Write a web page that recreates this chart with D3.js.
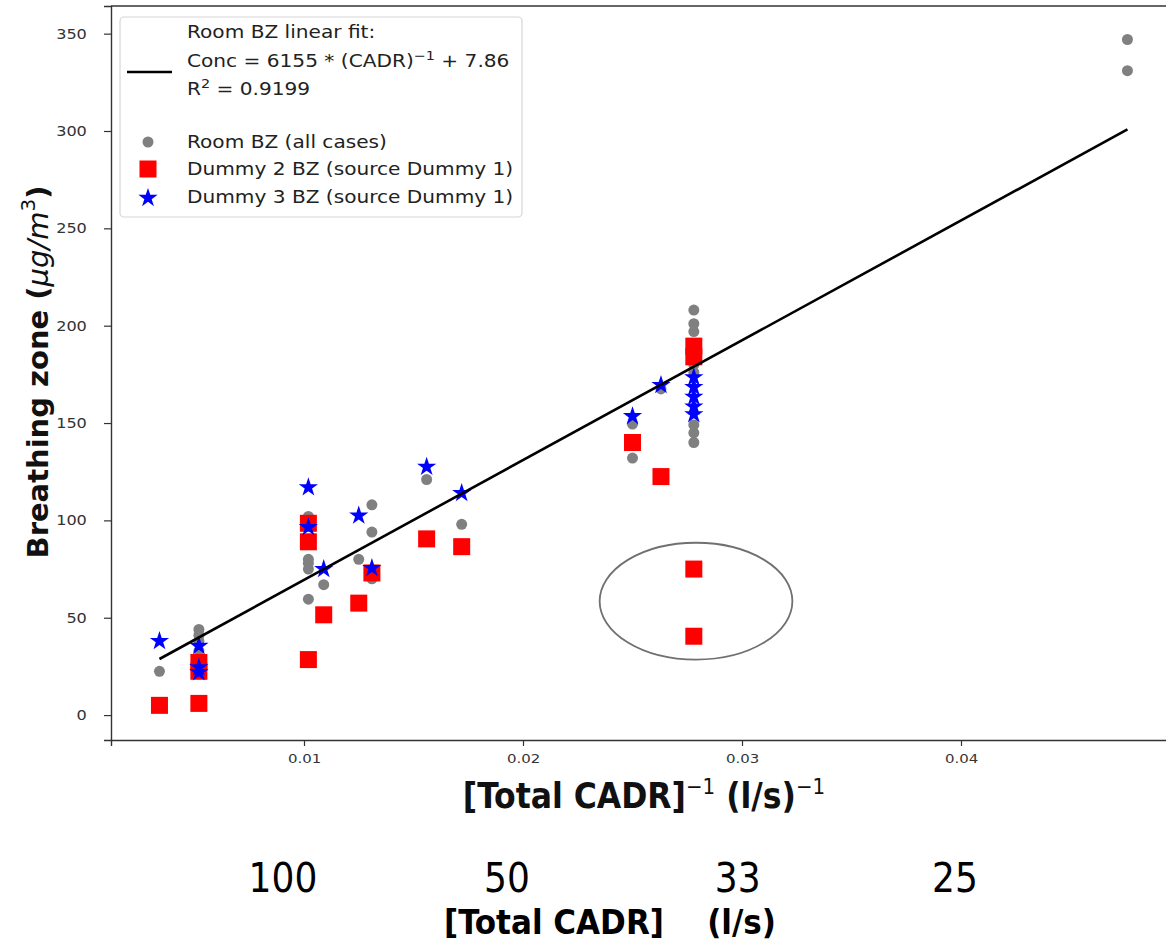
<!DOCTYPE html>
<html>
<head>
<meta charset="utf-8">
<script src="https://cdn.jsdelivr.net/npm/d3@7"></script>
<style>
  body { margin: 0; background: #fff; }
  svg { display: block; }
</style>
</head>
<body>
<svg id="chart" width="1166" height="945"></svg>
<script>
// values: [1/CADR, concentration]
var roomBZ = [
  [0.0034, 22.5],
  [0.0052, 44], [0.0052, 41], [0.0052, 38], [0.0052, 33],
  [0.0102, 102], [0.0102, 80], [0.0102, 78], [0.0102, 75], [0.0102, 59.5],
  [0.0109, 67],
  [0.0125, 80],
  [0.0131, 108], [0.0131, 94], [0.0131, 70],
  [0.0156, 121],
  [0.0172, 98],
  [0.0250, 149.5], [0.0250, 132],
  [0.0263, 167.5],
  [0.0278, 208], [0.0278, 201], [0.0278, 197], [0.0278, 180], [0.0278, 176],
  [0.0278, 149], [0.0278, 145], [0.0278, 140],
  [0.0476, 347], [0.0476, 331]
];
var dummy2BZ = [
  [0.0034, 5],
  [0.0052, 27], [0.0052, 22.5], [0.0052, 6],
  [0.0102, 98.5], [0.0102, 89], [0.0102, 28.5],
  [0.0109, 51.5],
  [0.0125, 57.5],
  [0.0131, 73],
  [0.0156, 90.5],
  [0.0172, 86.5],
  [0.0250, 140],
  [0.0263, 122.5],
  [0.0278, 189.5], [0.0278, 184], [0.0278, 75], [0.0278, 40.5]
];
var dummy3BZ = [
  [0.0034, 38.5],
  [0.0052, 36], [0.0052, 25], [0.0052, 22.5],
  [0.0102, 117.5], [0.0102, 97],
  [0.0109, 75.5],
  [0.0125, 103],
  [0.0131, 76],
  [0.0156, 128],
  [0.0172, 114.5],
  [0.0250, 154],
  [0.0263, 170],
  [0.0278, 174], [0.0278, 169], [0.0278, 164], [0.0278, 159], [0.0278, 155]
];
var fitLine = [[0.0034, 28.8], [0.0476, 300.8]];
var yTicks = [0, 50, 100, 150, 200, 250, 300, 350];
var xTicks = [0.01, 0.02, 0.03, 0.04];
var cadrLabels = [100, 50, 33, 25];
// circled outliers: centre and half sizes in data units
var outlierRing = { cx: 0.0279, cy: 58.5, rx: 0.0044, ry: 30 };

var SX = 1.15; // the picture is stretched sideways a little

var svg = d3.select("#chart");
var x = d3.scaleLinear().domain([0.001187, 0.0500]).range([111, 1180]);
var y = d3.scaleLinear().domain([-12.8, 364.2]).range([740, 6]);

var plot = svg.append("g");
plot.append("defs").append("clipPath").attr("id", "clip")
  .append("rect").attr("x", 111).attr("y", 6).attr("width", 1100).attr("height", 734);

// axes
var yAxis = d3.axisLeft(y).tickValues(yTicks).tickSize(7).tickPadding(14);
var xAxis = d3.axisBottom(x).tickValues(xTicks).tickSize(6).tickPadding(8)
  .tickFormat(d3.format(".2f"));

var gy = plot.append("g").attr("transform", "translate(111,0)").call(yAxis);
var gx = plot.append("g").attr("transform", "translate(0,740)").call(xAxis);
[gx, gy].forEach(function(g) {
  g.select(".domain").attr("stroke", "#333").attr("stroke-width", 1.4);
  g.selectAll(".tick line").attr("stroke", "#333").attr("stroke-width", 1.2);
  g.selectAll(".tick text").attr("fill", "#333").attr("font-family", "DejaVu Sans")
    .attr("transform", "scale(" + SX + ",1)");
});
gy.selectAll(".tick text").attr("font-size", 14);
gx.selectAll(".tick text").attr("font-size", 13);

// top spine
plot.append("line").attr("x1", 111).attr("x2", 1166).attr("y1", 6).attr("y2", 6)
  .attr("stroke", "#333").attr("stroke-width", 1.4);

var marks = plot.append("g").attr("clip-path", "url(#clip)");

marks.selectAll(".room").data(roomBZ).enter().append("circle")
  .attr("class", "room")
  .attr("cx", function(d) { return x(d[0]); })
  .attr("cy", function(d) { return y(d[1]); })
  .attr("r", 5.5)
  .attr("fill", "#808080");

var sq = 17;
marks.selectAll(".d2").data(dummy2BZ).enter().append("rect")
  .attr("class", "d2")
  .attr("x", function(d) { return x(d[0]) - sq / 2; })
  .attr("y", function(d) { return y(d[1]) - sq / 2; })
  .attr("width", sq).attr("height", sq)
  .attr("fill", "#ff0000");

var star = d3.symbol().type(d3.symbolStar).size(115);
marks.selectAll(".d3").data(dummy3BZ).enter().append("path")
  .attr("class", "d3")
  .attr("transform", function(d) { return "translate(" + x(d[0]) + "," + (y(d[1]) + 1) + ")"; })
  .attr("d", star)
  .attr("fill", "#0000ff");

var line = d3.line().x(function(d) { return x(d[0]); }).y(function(d) { return y(d[1]); });
marks.append("path").datum(fitLine)
  .attr("d", line)
  .attr("fill", "none")
  .attr("stroke", "#000")
  .attr("stroke-width", 2.6);

// ring round the two low points
plot.append("ellipse")
  .attr("cx", x(outlierRing.cx)).attr("cy", y(outlierRing.cy))
  .attr("rx", x(outlierRing.cx + outlierRing.rx) - x(outlierRing.cx))
  .attr("ry", y(outlierRing.cy - outlierRing.ry) - y(outlierRing.cy))
  .attr("fill", "none").attr("stroke", "#707070").attr("stroke-width", 1.8);

// legend
var lg = plot.append("g");
lg.append("rect").attr("x", 120).attr("y", 17).attr("width", 402).attr("height", 200)
  .attr("rx", 4).attr("fill", "#fff").attr("fill-opacity", 0.85)
  .attr("stroke", "#d6d6d6").attr("stroke-width", 1.2);

function legendText(ty) {
  return lg.append("text")
    .attr("transform", "translate(187," + ty + ") scale(" + SX + ",1)")
    .attr("font-family", "DejaVu Sans").attr("font-size", 17.5).attr("fill", "#222");
}
legendText(38).text("Room BZ linear fit:");
var t2 = legendText(67);
t2.append("tspan").text("Conc = 6155 * (CADR)");
t2.append("tspan").attr("dy", -7).attr("font-size", 12.5).text("\u22121");
t2.append("tspan").attr("dy", 7).text(" + 7.86");
var t3 = legendText(95);
t3.append("tspan").text("R");
t3.append("tspan").attr("dy", -7).attr("font-size", 12.5).text("2");
t3.append("tspan").attr("dy", 7).text(" = 0.9199");
lg.append("line").attr("x1", 127).attr("x2", 172).attr("y1", 72).attr("y2", 72)
  .attr("stroke", "#000").attr("stroke-width", 2.6);

legendText(148).text("Room BZ (all cases)");
legendText(175).text("Dummy 2 BZ (source Dummy 1)");
legendText(203).text("Dummy 3 BZ (source Dummy 1)");
lg.append("circle").attr("cx", 148).attr("cy", 142).attr("r", 5.5).attr("fill", "#808080");
lg.append("rect").attr("x", 148 - sq / 2).attr("y", 169 - sq / 2).attr("width", sq).attr("height", sq)
  .attr("fill", "#ff0000");
lg.append("path").attr("transform", "translate(148,198)").attr("d", star).attr("fill", "#0000ff");

// y axis title
var yt = svg.append("text")
  .attr("transform", "translate(48,372) rotate(-90)")
  .attr("text-anchor", "middle")
  .attr("font-family", "DejaVu Sans").attr("font-weight", "bold").attr("font-size", 29)
  .attr("fill", "#111");
yt.append("tspan").text("Breathing zone (");
yt.append("tspan").attr("font-weight", "normal").attr("font-style", "italic").text("\u03bcg/m");
yt.append("tspan").attr("dy", -13).attr("font-weight", "normal").attr("font-size", 20).text("3");
yt.append("tspan").attr("dy", 13).text(")");

// x axis title
var narrow = "'Liberation Sans Narrow', 'DejaVu Sans Condensed', sans-serif";
var xt = svg.append("text")
  .attr("x", 644).attr("y", 808)
  .attr("text-anchor", "middle")
  .attr("font-family", narrow).attr("font-weight", "bold").attr("font-size", 35)
  .attr("fill", "#111");
xt.append("tspan").text("[Total CADR]");
xt.append("tspan").attr("dy", -14).attr("font-size", 22).attr("font-weight", "normal").text("\u22121");
xt.append("tspan").attr("dy", 14).text(" (l/s)");
xt.append("tspan").attr("dy", -14).attr("font-size", 22).attr("font-weight", "normal").text("\u22121");

// second scale: CADR itself, under the inverse axis (hand placed in the source, a bit off the ticks)
svg.selectAll(".cadr").data(cadrLabels).enter().append("text")
  .attr("class", "cadr")
  .attr("x", function(d) { return 1.0228 * x(1 / d) - 28; })
  .attr("y", 892)
  .attr("text-anchor", "middle")
  .attr("font-family", narrow).attr("font-size", 40)
  .attr("fill", "#000")
  .text(function(d) { return d; });

svg.append("text")
  .attr("x", 610).attr("y", 934)
  .attr("text-anchor", "middle")
  .attr("font-family", narrow).attr("font-weight", "bold").attr("font-size", 34.5)
  .attr("fill", "#000")
  .attr("xml:space", "preserve")
  .text("[Total CADR]    (l/s)");
</script>
</body>
</html>
